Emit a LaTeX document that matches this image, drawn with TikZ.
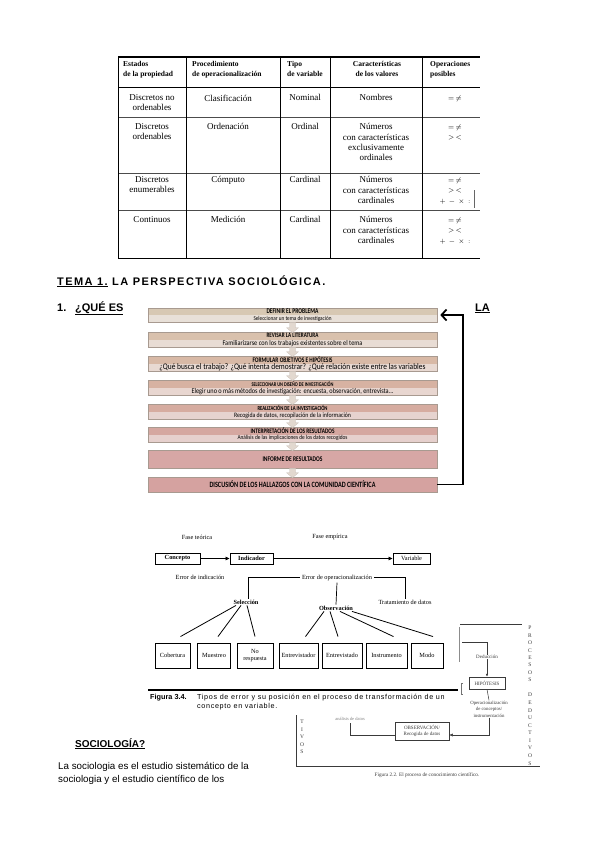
\documentclass[tikz,border=0pt]{standalone}
\usepackage{fontspec}
\usepackage{graphicx}
\setmainfont{Liberation Serif}
\newfontfamily\arial{Liberation Sans}
\newfontfamily\arialsp[LetterSpace=13]{Liberation Sans}
\newfontfamily\arialcap[LetterSpace=9]{Liberation Sans}
\newfontfamily\calib{Carlito}
\usetikzlibrary{arrows.meta,calc}
\newcommand\fitw[2]{\resizebox{#1pt}{!}{#2}}
\newcommand\fitt[2]{\resizebox{#1pt}{!}{\scalebox{1}[1.3]{#2}}}
\newcommand\fits[2]{\resizebox{#1pt}{!}{\scalebox{1}[1.15]{#2}}}
\definecolor{bxline}{HTML}{A89A90}
\definecolor{aone}{HTML}{D7C8B3}\definecolor{bone}{HTML}{E8E0D8}
\definecolor{atwo}{HTML}{D9C1AD}\definecolor{btwo}{HTML}{E8DCD4}
\definecolor{athree}{HTML}{D8B9A6}\definecolor{bthree}{HTML}{E8D9D2}
\definecolor{afour}{HTML}{D7B2A2}\definecolor{bfour}{HTML}{E8D6D0}
\definecolor{afive}{HTML}{D6ACA0}\definecolor{bfive}{HTML}{E6D3CF}
\definecolor{asix}{HTML}{D5A7A0}\definecolor{bsix}{HTML}{E6D0CD}
\definecolor{aseven}{HTML}{D7A7A5}
\definecolor{aeight}{HTML}{D5A2A0}
\definecolor{arrc}{HTML}{E2D8CF}
\definecolor{scan}{HTML}{3A3A3A}
\newcommand\twobox[9]{%
  \fill[#4] (148,#2) rectangle (437,{(#2+#3)/2});
  \fill[#5] (148,{(#2+#3)/2}) rectangle (437,#3);
  \node[fbx, minimum height={#3-#2}] (#1) at (292.5,{(#2+#3)/2}) {};
  \node[inner sep=0] (#1t) at (292.5,{#2+(#3-#2)/4}) {\fitt{#6}{\calib\bfseries #7}};
  \node[inner sep=0] (#1s) at (292.5,{#3-(#3-#2)/4}) {\fits{#8}{\calib #9}};
}
\newcommand\onebox[6]{%
  \fill[#4] (148,#2) rectangle (437,#3);
  \node[fbx, minimum height={#3-#2}] (#1) at (292.5,{(#2+#3)/2}) {};
  \node[inner sep=0] (#1t) at (292.5,{(#2+#3)/2}) {\fitt{#5}{\calib\bfseries #6}};
}
\newcommand\dnarr[2]{%
  \fill[arrc, draw=bxline!60, line width=0.3]
    ($(#1.south)+(-3,0)$) -- ($(#1.south)+(3,0)$) -- ($(#2.north)+(3,-4)$) -- ($(#2.north)+(6,-4)$)
    -- ($(#2.north)+(0,1)$) -- ($(#2.north)+(-6,-4)$) -- ($(#2.north)+(-3,-4)$) -- cycle;
}
\begin{document}
\begin{tikzpicture}[x=1pt,y=-1pt,
  tabtxt/.style={font=\fontsize{9}{10.3}\selectfont, align=center, anchor=north, inner sep=0pt},
  tabhd/.style={font=\bfseries\fontsize{7.5}{10}\selectfont, anchor=north west, align=left, inner sep=0pt},
  opsx/.style={font=\fontsize{7}{10.5}\selectfont, align=center, anchor=north, inner sep=0pt},
  fbx/.style={draw=bxline, line width=0.6, minimum width=289, inner sep=0},
  ftxt/.style={font=\fontsize{6.3}{7.5}\selectfont, inner sep=0.5},
  sbox/.style={draw, line width=0.9, minimum height=25, inner sep=0, font=\fontsize{6.3}{7}\selectfont, align=center},
  bbox/.style={draw, line width=0.9, minimum height=11, inner sep=0, font=\bfseries\fontsize{6.3}{7}\selectfont},
  fr/.style={scan, line width=0.5},
  frt/.style={text=scan, inner sep=0.3, font=\fontsize{5}{6.5}\selectfont, align=center},
  let/.style={text=scan, inner sep=0, font=\fontsize{5.5}{6}\selectfont},
  hd/.style={font=\arialsp\bfseries\fontsize{11}{13}\selectfont, anchor=base west, inner sep=0},
  hdn/.style={font=\arial\bfseries\fontsize{11}{13}\selectfont, anchor=base west, inner sep=0}
]
\useasboundingbox[fill=white] (0,0) rectangle (599,848);

% ---------------- table ----------------
\draw[line width=1.2] (118,57) -- (480,57);
\draw[line width=1.0] (118,88) -- (480,88);
\draw[line width=0.6, black!70] (118,117) -- (480,117);
\draw[line width=0.6, black!70] (118,173) -- (480,173);
\draw[line width=0.6, black!70] (118,210) -- (480,210);
\draw[line width=1.0] (118,258) -- (480,258);
\foreach \xx in {118,186,280,330,422} \draw[line width=0.8] (\xx,57) -- (\xx,258);
\draw[line width=0.6, black!60] (474,190) -- (474,208);

\node[tabhd] (h1) at (123,61) {Estados\\de la propiedad};
\node[tabhd] (h2) at (192,61) {Procedimiento\\de operacionalización};
\node[tabhd] (h3) at (287,61) {Tipo\\de variable};
\node[tabhd, align=center, anchor=north] (h4) at (377,61) {Características\\de los valores};
\node[tabhd] (h5) at (430,61) {Operaciones\\posibles};

\node[tabtxt] (r1a) at (152,94.5) {Discretos no\\ordenables};
\node[tabtxt] (r1b) at (228,94.5) {Clasificación};
\node[tabtxt] (r1c) at (305,94.5) {Nominal};
\node[tabtxt] (r1d) at (376,94.5) {Nombres};
\node[opsx] (r1e) at (455,95) {$=\,\neq$};

\node[tabtxt] (r2a) at (152,123.5) {Discretos\\ordenables};
\node[tabtxt] (r2b) at (228,123.5) {Ordenación};
\node[tabtxt] (r2c) at (305,123.5) {Ordinal};
\node[tabtxt] (r2d) at (376,123.5) {Números\\con características\\exclusivamente\\ordinales};
\node[opsx] (r2e) at (455,124) {$=\,\neq$\\$>\,<$};

\node[tabtxt] (r3a) at (152,176.5) {Discretos\\enumerables};
\node[tabtxt] (r3b) at (228,176.5) {Cómputo};
\node[tabtxt] (r3c) at (305,176.5) {Cardinal};
\node[tabtxt] (r3d) at (376,176.5) {Números\\con características\\cardinales};
\node[opsx] (r3e) at (455,177) {$=\,\neq$\\$>\,<$\\$+\,-\,\times\,:$};

\node[tabtxt] (r4a) at (152,216.5) {Continuos};
\node[tabtxt] (r4b) at (228,216.5) {Medición};
\node[tabtxt] (r4c) at (305,216.5) {Cardinal};
\node[tabtxt] (r4d) at (376,216.5) {Números\\con características\\cardinales};
\node[opsx] (r4e) at (455,217) {$=\,\neq$\\$>\,<$\\$+\,-\,\times\,:$};

% ---------------- headings ----------------
\node[hd] (tema) at (57,285) {\underline{TEMA 1.} LA PERSPECTIVA SOCIOLÓGICA.};
\node[hdn] (num) at (57,311) {1.};
\node[hdn] (que) at (75,311) {\underline{¿QUÉ ES}};
\node[hdn] (la) at (475,311) {\underline{LA}};

% ---------------- flowchart ----------------
\twobox{b1}{308}{322}{aone}{bone}{52}{DEFINIR EL PROBLEMA}{78}{Seleccionar un tema de investigación}
\twobox{b2}{332}{347}{atwo}{btwo}{52}{REVISAR LA LITERATURA}{140}{Familiarizarse con los trabajos existentes sobre el tema}
\twobox{b3}{356}{371}{athree}{bthree}{80}{FORMULAR OBJETIVOS E HIPÓTESIS}{266}{¿Qué busca el trabajo? ¿Qué intenta demostrar? ¿Qué relación existe entre las variables}
\twobox{b4}{380}{395}{afour}{bfour}{82}{SELECCIONAR UN DISEÑO DE INVESTIGACIÓN}{202}{Elegir uno o más métodos de investigación: encuesta, observación, entrevista...}
\twobox{b5}{404}{419}{afive}{bfive}{70}{REALIZACIÓN DE LA INVESTIGACIÓN}{117}{Recogida de datos, recopilación de la información}
\twobox{b6}{427}{442}{asix}{bsix}{84}{INTERPRETACIÓN DE LOS RESULTADOS}{110}{Análisis de las implicaciones de los datos recogidos}
\onebox{b7}{450}{468}{aseven}{60}{INFORME DE RESULTADOS}
\onebox{b8}{477}{492}{aeight}{166}{DISCUSIÓN DE LOS HALLAZGOS CON LA COMUNIDAD CIENTÍFICA}
\dnarr{b1}{b2}\dnarr{b2}{b3}\dnarr{b3}{b4}\dnarr{b4}{b5}\dnarr{b5}{b6}\dnarr{b6}{b7}\dnarr{b7}{b8}

\draw[line width=1.8, -{Straight Barb[length=5pt,width=11pt]}]
  (b8.east) -- ++(26,0) |- ($(b1.east)+(3,0)$);

% ---------------- Figura 3.4 ----------------
\node[ftxt] (ft) at (197,537) {Fase teórica};
\node[ftxt] (fe) at (330,537) {Fase empírica};
\node[bbox, minimum width=45] (con) at (177.5,558.5) {Concepto};
\node[bbox, minimum width=43] (ind) at (251.5,558.5) {Indicador};
\node[bbox, minimum width=37, font=\fontsize{6.3}{7}\selectfont] (var) at (411.5,558.5) {Variable};
\draw[line width=0.7, -{Triangle[length=4pt,width=3.5pt]}] (con) -- (ind);
\draw[line width=0.7, -{Triangle[length=4pt,width=3.5pt]}] (ind) -- (var);
\node[ftxt] (ei) at (200,577.5) {Error de indicación};
\node[ftxt, inner sep=2] (eo) at (337,577.5) {Error de operacionalización};
\node[ftxt, font=\bfseries\fontsize{6.3}{7.5}\selectfont] (sel) at (246,602.5) {Selección};
\node[ftxt, font=\bfseries\fontsize{6.3}{7.5}\selectfont] (obs) at (336,608.5) {Observación};
\node[ftxt] (trat) at (405,602.5) {Tratamiento de datos};
\draw[line width=0.7] (eo.west) -| ($(sel.north)+(2,-1)$);
\draw[line width=0.7] (eo.east) -| ($(trat.north)+(0,-1)$);
\draw[line width=0.7] (eo.south) -- ($(obs.north)+(0,-1)$);

\node[sbox, minimum width=35] (cob) at (172.5,655.5) {Cobertura};
\node[sbox, minimum width=33] (mue) at (214,655.5) {Muestreo};
\node[sbox, minimum width=36] (nor) at (255,655.5) {No\\respuesta};
\node[sbox, minimum width=39] (ent1) at (298.5,655.5) {Entrevistador};
\node[sbox, minimum width=40] (ent2) at (342,655.5) {Entrevistado};
\node[sbox, minimum width=41] (ins) at (386.5,655.5) {Instrumento};
\node[sbox, minimum width=32] (mod) at (427,655.5) {Modo};
\draw[line width=0.8] ($(sel.south)+(-10,0)$) -- ($(cob.north)+(8,-6)$);
\draw[line width=0.8] ($(sel.south)+(-5,0)$) -- ($(mue.north)+(4,-6)$);
\draw[line width=0.8] ($(sel.south)+(1,0)$) -- ($(nor.north)+(0,-6)$);
\draw[line width=0.8] ($(obs.south)+(-12,0)$) -- ($(ent1.north)+(7,-6)$);
\draw[line width=0.8] ($(obs.south)+(-6,0)$) -- ($(ent2.north)+(-4,-6)$);
\draw[line width=0.8] ($(obs.south)+(4,0)$) -- ($(ins.north)+(7,-6)$);
\draw[line width=0.8] ($(obs.south)+(16,0)$) -- ($(mod.north)+(6,-6)$);

\draw[line width=1.2] (148,690) -- (458,690);
\node[anchor=base west, inner sep=0, font=\arial\bfseries\fontsize{7.3}{9}\selectfont] (figc) at (150,699) {Figura 3.4.};
\node[anchor=north west, inner sep=0, font=\arialcap\fontsize{7.2}{9}\selectfont, align=left] (figt) at (197,693.5)
  {Tipos de error y su posición en el proceso de transformación de un\\concepto en variable.};

% ---------------- Figura 2.2 (fragment) ----------------
\draw[fr] (460,624) -- (522,624);
\draw[fr, black!45] (459,627) -- (459,662);
\draw[fr, black!55] (463,683) -- (461,683) -- (461,694) -- (463,694);
\foreach \c [count=\i] in {P,R,O,C,E,S,O,S} \node[let] (pp\i) at (530,{628+7.4*(\i-1)}) {\c};
\foreach \c [count=\i] in {D,E,D,U,C,T,I,V,O,S} \node[let] (dd\i) at (530,{695+7.6*(\i-1)}) {\c};
\node[frt] (ded) at (487,657) {Deducción};
\node[frt, draw=scan, line width=0.5, minimum width=36, minimum height=12] (hip) at (487,683) {HIPÓTESIS};
\coordinate (dk) at (487,642);
\draw[fr] (462,642) -- (dk);
\draw[fr] (dk) -- (ded.north);
\draw[fr, -{Latex[length=3pt,width=2.5pt]}] (ded.south) -- (hip.north);
\node[frt, font=\fontsize{4.8}{6.5}\selectfont] (opr) at (489,709) {Operacionalización\\de conceptos/\\instrumentación};
\draw[fr] (hip.south) -- (opr.north);
\node[frt, draw=scan, line width=0.5, minimum width=54, minimum height=18] (obsv) at (422,731) {OBSERVACIÓN/\\Recogida de datos};
\draw[fr, -{Latex[length=3.5pt,width=3pt]}] (opr.south) |- ($(obsv.east)+(0,4)$);
\coordinate (ok) at (350,723);
\draw[fr] ($(obsv.west)+(0,4)$) -| (ok);
\node[frt, text=black!50, font=\fontsize{4.5}{5}\selectfont] (ana) at (350,719) {análisis de datos};
\foreach \c [count=\i] in {T,I,V,O,S} \node[let] (tt\i) at (302,{722+7.5*(\i-1)}) {\c};
\draw[fr] (296,715) -- (296,766) -- (540,766);
\node[frt, font=\fontsize{5.2}{6}\selectfont] (cap22) at (427,775) {Figura 2.2. El proceso de conocimiento científico.};

% ---------------- Sociología ----------------
\node[anchor=base west, inner sep=0, font=\arial\bfseries\fontsize{10}{12}\selectfont] (soc) at (75,747) {\underline{SOCIOLOGÍA?}};
\node[anchor=north west, inner sep=0, font=\arial\fontsize{9.8}{12.5}\selectfont, align=left] (body) at (58,762.5) {La sociologia es el estudio sistemático de la\\sociologia y el estudio científico de los};
\end{tikzpicture}
\end{document}
